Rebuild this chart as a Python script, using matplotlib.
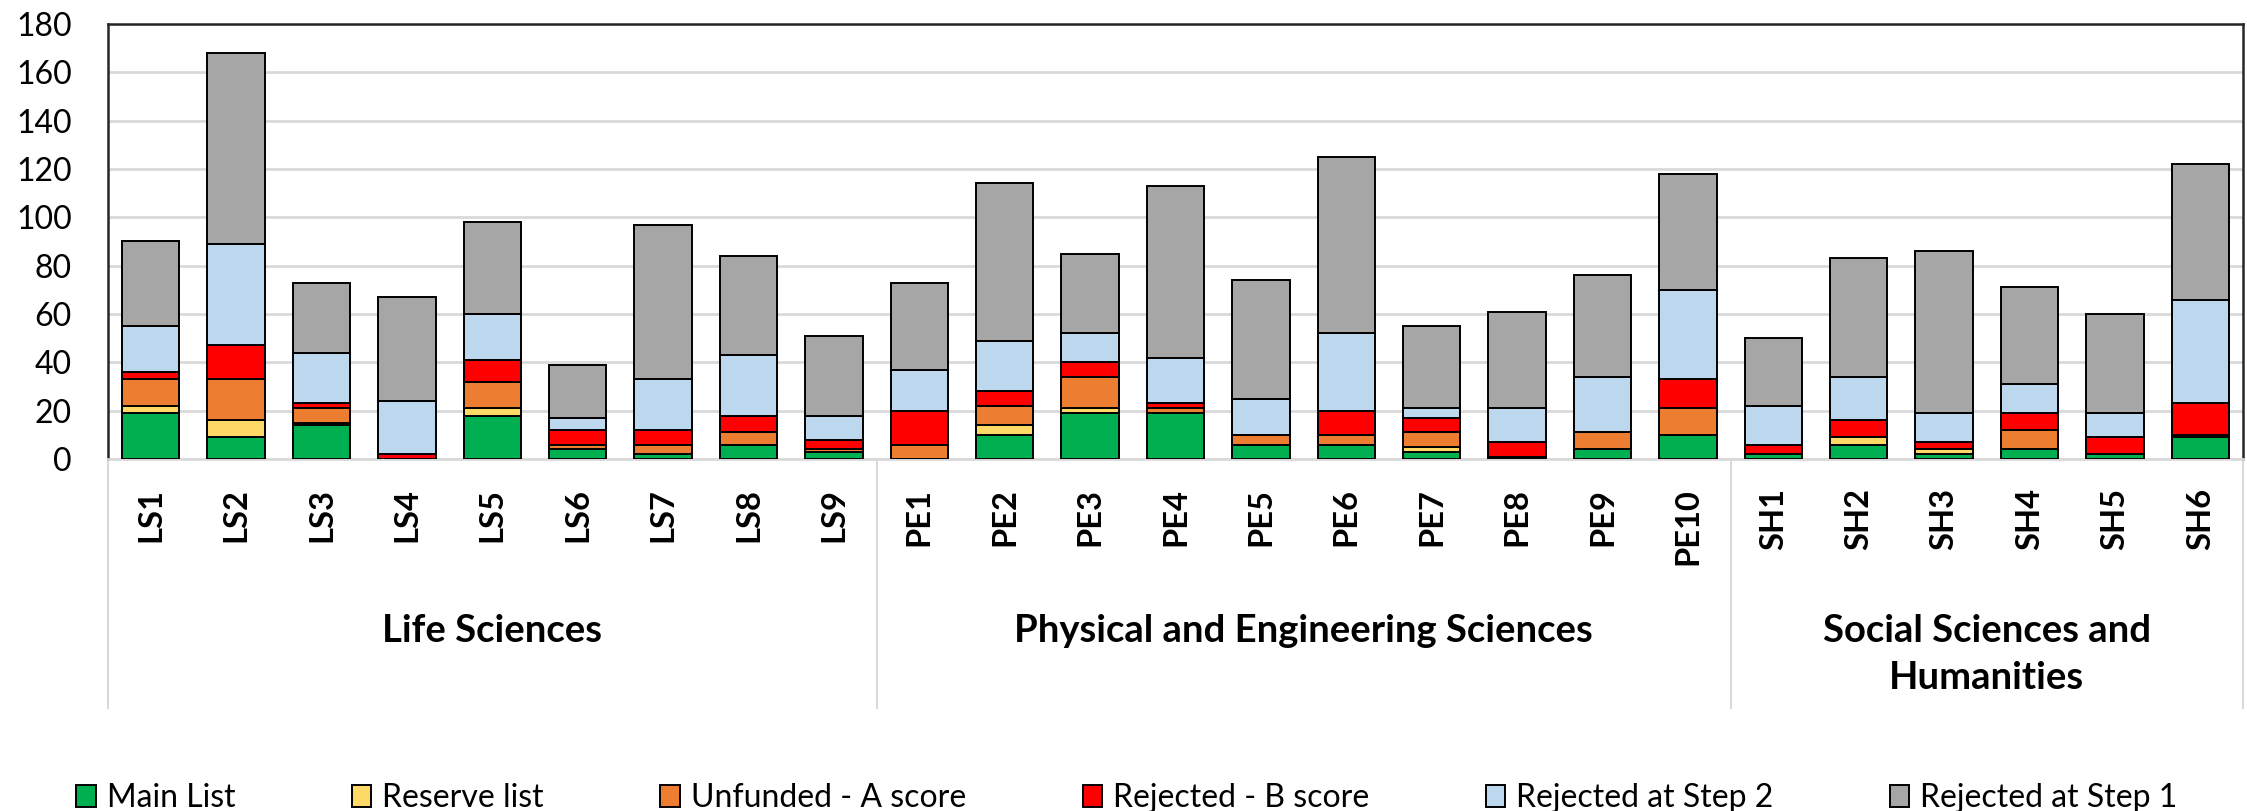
import numpy as np
import matplotlib
matplotlib.use("Agg")
from matplotlib import pyplot as plt

plt.rcParams['font.family'] = ['Lato', 'DejaVu Sans']

categories = ['LS1', 'LS2', 'LS3', 'LS4', 'LS5', 'LS6', 'LS7', 'LS8', 'LS9',
              'PE1', 'PE2', 'PE3', 'PE4', 'PE5', 'PE6', 'PE7', 'PE8', 'PE9', 'PE10',
              'SH1', 'SH2', 'SH3', 'SH4', 'SH5', 'SH6']
groups = ['Life Sciences', 'Physical and Engineering Sciences', 'Social Sciences and\nHumanities']
group_sizes = [9, 10, 6]

main_list = [19, 9, 14, 0, 18, 4, 2, 6, 3, 0, 10, 19, 19, 6, 6, 3, 1, 4, 10, 2, 6, 2, 4, 2, 9]
reserve   = [3, 7, 1, 0, 3, 0, 0, 0, 0, 0, 4, 2, 0, 0, 0, 2, 0, 0, 0, 0, 3, 2, 0, 0, 0]
unfunded  = [11, 17, 6, 0, 11, 2, 4, 5, 1, 6, 8, 13, 2, 4, 4, 6, 0, 7, 11, 0, 0, 0, 8, 0, 1]
rejected_b = [3, 14, 2, 2, 9, 6, 6, 7, 4, 14, 6, 6, 2, 0, 10, 6, 6, 0, 12, 4, 7, 3, 7, 7, 13]
step2     = [19, 42, 21, 22, 19, 5, 21, 25, 10, 17, 21, 12, 19, 15, 32, 4, 14, 23, 37, 16, 18, 12, 12, 10, 43]
step1     = [35, 79, 29, 43, 38, 22, 64, 41, 33, 36, 65, 33, 71, 49, 73, 34, 40, 42, 48, 28, 49, 67, 40, 41, 56]

series = [('Main List', main_list, '#00B050'),
          ('Reserve list', reserve, '#FFD966'),
          ('Unfunded - A score', unfunded, '#ED7D31'),
          ('Rejected - B score', rejected_b, '#FF0000'),
          ('Rejected at Step 2', step2, '#BDD7EE'),
          ('Rejected at Step 1', step1, '#A6A6A6')]

W, H = 2247, 811
fig = plt.figure(figsize=(W / 100, H / 100), dpi=100)
ax = fig.add_axes([108 / W, 1 - 459 / H, 2135 / W, 435 / H])

x = np.arange(len(categories))
bottom = np.zeros(len(categories))
handles = []
for name, vals, col in series:
    vals = np.array(vals, dtype=float)
    b = ax.bar(x, vals, 0.67, bottom=bottom, color=col, edgecolor='black',
               linewidth=1.4, label=name, zorder=3)
    handles.append(b)
    bottom += vals

ax.set_xlim(-0.5, len(categories) - 0.5)
ax.set_ylim(0, 180)
ax.set_yticks(np.arange(0, 181, 20))
ax.yaxis.grid(True, color='#D9D9D9', linewidth=2, zorder=0)
ax.tick_params(axis='y', length=0, pad=26, labelsize=23)
ax.set_xticks(x)
ax.set_xticklabels(categories, rotation=90, fontweight='bold', fontsize=23.5, va='top')
ax.tick_params(axis='x', length=0, pad=21)

for s in ['left', 'top', 'right']:
    ax.spines[s].set_color('#262626')
    ax.spines[s].set_linewidth(1.8)
ax.spines['bottom'].set_color('#D9D9D9')
ax.spines['bottom'].set_linewidth(2)

# multi-level category axis: separators and group names
trans = ax.get_xaxis_transform()
edges = np.concatenate([[0], np.cumsum(group_sizes)]) - 0.5
for e in edges:
    ax.plot([e, e], [0, -249 / 435], color='#D9D9D9', linewidth=1.5,
            transform=trans, clip_on=False)
for g, a, b in zip(groups, edges[:-1], edges[1:]):
    ax.text((a + b) / 2, -155 / 435, g, transform=trans, ha='center', va='top',
            fontsize=27.5, fontweight='bold', linespacing=1.45)

fig.legend(handles=handles, loc='center', bbox_to_anchor=(1127 / W, 1 - 798 / H),
           ncol=6, frameon=False, fontsize=23, handlelength=0.6, handleheight=0.7,
           handletextpad=0.35, columnspacing=3.65)

fig.savefig('out.png', dpi=100)
